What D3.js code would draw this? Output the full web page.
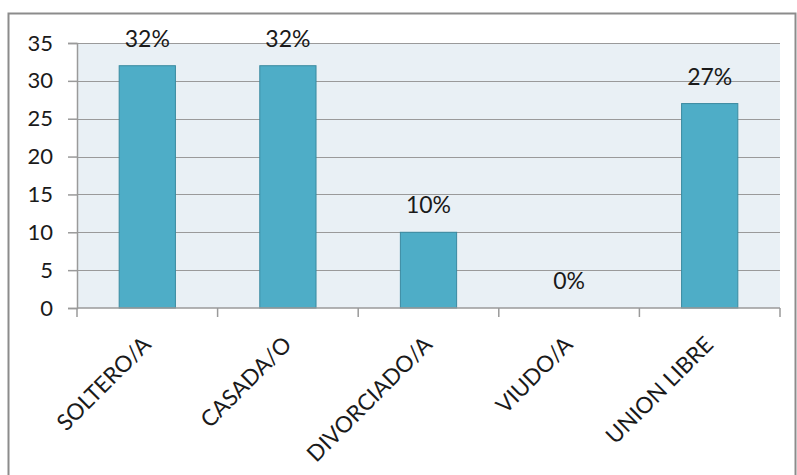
<!DOCTYPE html>
<html>
<head>
<meta charset="utf-8">
<script src="https://cdn.jsdelivr.net/npm/d3@7"></script>
<style>
  html, body { margin: 0; padding: 0; background: #fff; }
  svg { display: block; }
  text { font-family: Lato, "Open Sans", sans-serif; fill: #1a1a1a; }
</style>
</head>
<body>
<svg id="chart" width="797" height="475"></svg>
<script>
// Estado civil: porcentaje de personas por categoría
const categories = ["SOLTERO/A", "CASADA/O", "DIVORCIADO/A", "VIUDO/A", "UNION LIBRE"];
const values = [32, 32, 10, 0, 27];
const yTicks = [0, 5, 10, 15, 20, 25, 30, 35];

const svg = d3.select("#chart");
const W = 797, H = 475;

// outer frame
svg.append("rect")
  .attr("x", 8.5).attr("y", 13.5)
  .attr("width", W - 10).attr("height", H)
  .attr("fill", "#fff").attr("stroke", "#8c8c8c").attr("stroke-width", 2);

const plot = { left: 77, right: 780, top: 43, bottom: 308 };

const x = d3.scaleBand()
  .domain(categories)
  .range([plot.left, plot.right])
  .paddingInner(0.6)
  .paddingOuter(0.3);

const y = d3.scaleLinear()
  .domain([0, 35])
  .range([plot.bottom, plot.top]);

// plot background
svg.append("rect")
  .attr("x", plot.left).attr("y", plot.top)
  .attr("width", plot.right - plot.left).attr("height", plot.bottom - plot.top)
  .attr("fill", "#e9f0f5");

// gridlines
svg.append("g")
  .selectAll("line")
  .data(yTicks.filter(d => d > 0))
  .join("line")
  .attr("x1", plot.left).attr("x2", plot.right)
  .attr("y1", d => Math.round(y(d)) + 0.5).attr("y2", d => Math.round(y(d)) + 0.5)
  .attr("stroke", "#9a9a9a").attr("stroke-width", 1);

// bars
svg.append("g")
  .selectAll("rect")
  .data(values)
  .join("rect")
  .attr("x", (d, i) => x(categories[i]))
  .attr("y", d => y(d))
  .attr("width", x.bandwidth())
  .attr("height", d => y(0) - y(d))
  .attr("fill", "#4eadc7")
  .attr("stroke", d => d > 0 ? "#3a8aa0" : "none")
  .attr("stroke-width", 1);

// y axis
const yAxis = svg.append("g")
  .attr("transform", `translate(${plot.left},0)`)
  .call(d3.axisLeft(y).tickValues(yTicks).tickSize(9).tickPadding(15));
yAxis.select(".domain").attr("stroke", "#9a9a9a").attr("stroke-width", 1.5);
yAxis.selectAll(".tick line").attr("stroke", "#9a9a9a").attr("stroke-width", 1.5);
yAxis.selectAll(".tick text")
  .style("font-size", "22px").style("font-family", "Lato, sans-serif").attr("fill", "#1a1a1a");

// x axis: line and tick marks at the category boundaries
const step = x.step();
const boundaries = d3.range(categories.length + 1).map(i => plot.left + i * step);
svg.append("line")
  .attr("x1", plot.left).attr("x2", plot.right)
  .attr("y1", plot.bottom).attr("y2", plot.bottom)
  .attr("stroke", "#9a9a9a").attr("stroke-width", 1.5);
svg.append("g")
  .selectAll("line")
  .data(boundaries)
  .join("line")
  .attr("x1", d => d).attr("x2", d => d)
  .attr("y1", plot.bottom).attr("y2", plot.bottom + 9)
  .attr("stroke", "#9a9a9a").attr("stroke-width", 1.5);

// category labels, rotated
svg.append("g")
  .selectAll("text")
  .data(categories)
  .join("text")
  .attr("transform", d => `translate(${x(d) + x.bandwidth() / 2 + 5},${plot.bottom + 38}) rotate(-45)`)
  .attr("text-anchor", "end")
  .style("font-size", "22.5px")
  .text(d => d);

// value labels
svg.append("g")
  .selectAll("text")
  .data(values)
  .join("text")
  .attr("x", (d, i) => x(categories[i]) + x.bandwidth() / 2)
  .attr("y", d => y(d) - 19)
  .attr("text-anchor", "middle")
  .style("font-size", "23px")
  .attr("fill", "#333")
  .text(d => d + "%");
</script>
</body>
</html>
